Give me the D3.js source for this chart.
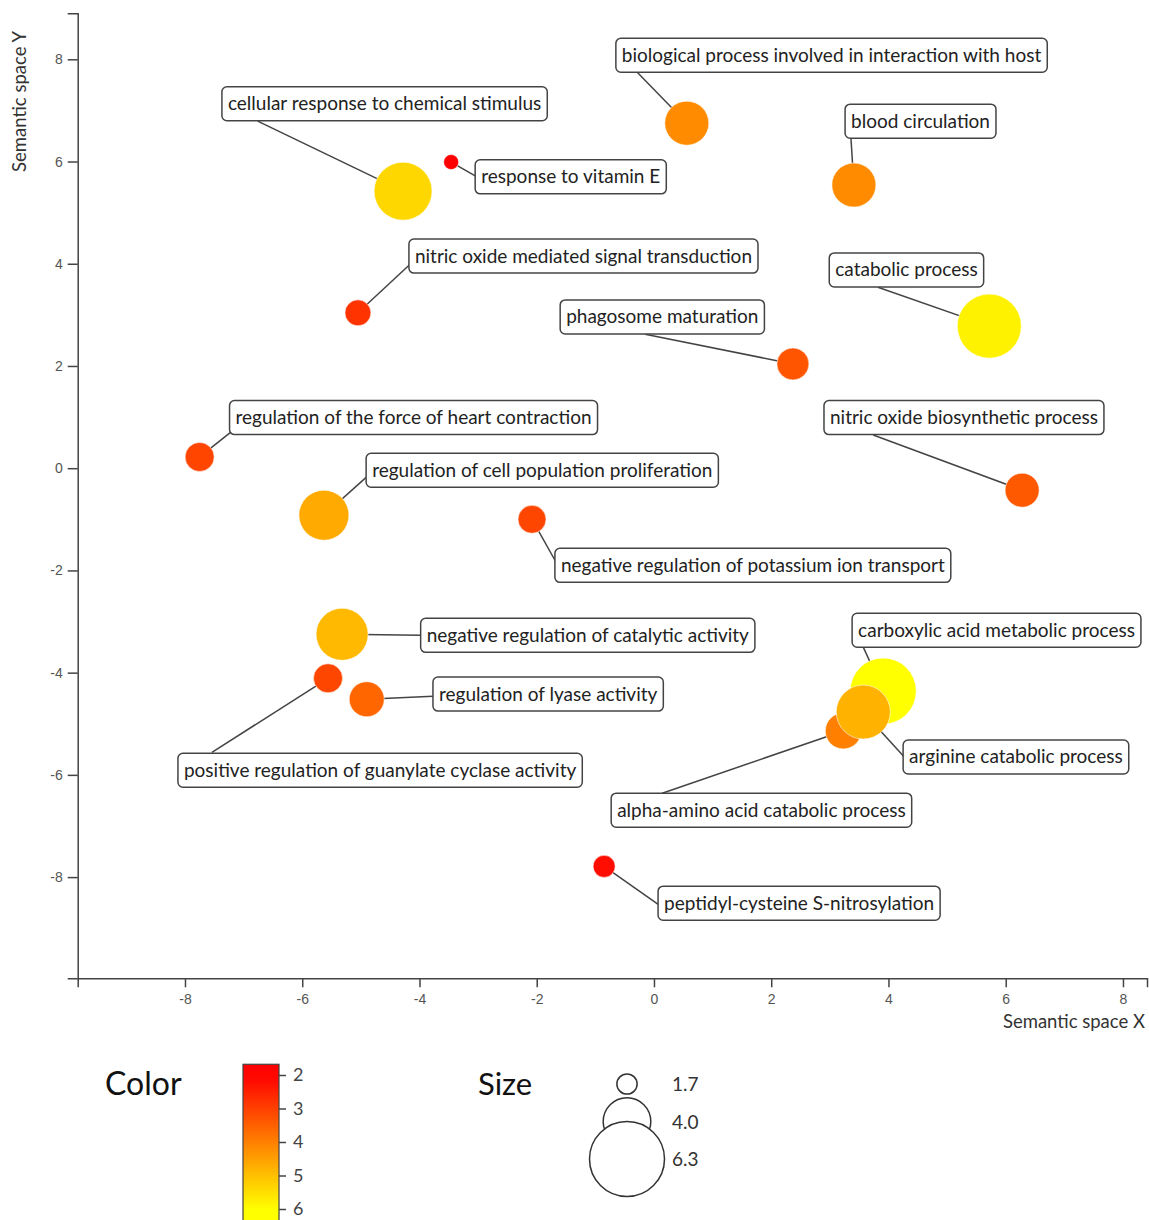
<!DOCTYPE html>
<html lang="en">
<head>
<meta charset="UTF-8">
<title>Semantic space of GO terms</title>
<script src="https://d3js.org/d3.v7.min.js"></script>
<style>
  body { margin: 0; background: #fff; }
  .tick text { font-family: "Liberation Sans", Arial, sans-serif; font-size: 14px; fill: #555; }
  .tick line, .domain { stroke: #444; stroke-width: 1.5px; }
  .lbl text { font-family: Lato, sans-serif; font-size: 19px; fill: #222; }
  .title { font-family: Lato, sans-serif; fill: #333; }
</style>
</head>
<body>
<svg id="chart" width="1149" height="1220"></svg>
<script>
// GO terms (REVIGO-style semantic space)
const terms = [
  "cellular response to chemical stimulus",
  "response to vitamin E",
  "biological process involved in interaction with host",
  "blood circulation",
  "nitric oxide mediated signal transduction",
  "catabolic process",
  "phagosome maturation",
  "regulation of the force of heart contraction",
  "nitric oxide biosynthetic process",
  "regulation of cell population proliferation",
  "negative regulation of potassium ion transport",
  "negative regulation of catalytic activity",
  "positive regulation of guanylate cyclase activity",
  "regulation of lyase activity",
  "carboxylic acid metabolic process",
  "alpha-amino acid catabolic process",
  "arginine catabolic process",
  "peptidyl-cysteine S-nitrosylation"
];
const semX = [-4.28, -3.46, 0.56, 3.41, -5.05, 5.72, 2.37, -7.75, 6.28, -5.63, -2.08, -5.32, -5.56, -4.90, 3.91, 3.23, 3.57, -0.85];
const semY = [5.42, 5.99, 6.75, 5.54, 3.04, 2.78, 2.04, 0.22, -0.43, -0.92, -1.00, -3.25, -4.11, -4.52, -4.36, -5.14, -4.77, -7.79];
const colorVal = [5.37, 2.0, 4.2, 4.2, 2.8, 5.8, 3.33, 3.08, 3.4, 4.67, 3.1, 4.9, 3.1, 3.6, 6.0, 4.0, 4.8, 2.2];
const sizeVal = [4.87, 1.26, 3.70, 3.70, 2.18, 5.38, 2.69, 2.44, 2.86, 4.20, 2.35, 4.37, 2.44, 2.94, 5.55, 3.03, 4.54, 1.85];

// label placement (semantic space units): box left / box middle, and where the leader line meets the box
const labelX = [-7.37, -3.05, -0.65, 3.26, -4.18, 2.99, -1.60, -7.24, 2.90, -4.91, -1.69, -3.98, -8.12, -3.77, 3.38, -0.73, 4.25, 0.07];
const labelY = [7.13, 5.70, 8.08, 6.79, 4.15, 3.88, 2.96, 0.99, 0.99, -0.04, -1.90, -3.27, -5.91, -4.42, -3.17, -6.69, -5.65, -8.51];
const anchorX = [-6.76, -3.05, -0.29, 3.36, -4.16, 3.82, -0.15, -7.18, 3.74, -4.91, -1.67, -3.98, -7.54, -3.77, 3.57, 0.14, 4.27, 0.09];
const anchorY = [6.79, 5.72, 7.75, 6.46, 3.99, 3.54, 2.62, 0.74, 0.65, -0.18, -1.84, -3.27, -5.56, -4.46, -3.50, -6.36, -5.65, -8.55];

const axisTicks = [-8, -6, -4, -2, 0, 2, 4, 6, 8];
const colorTicks = [2, 3, 4, 5, 6];
const sizeLegend = [1.7, 4.0, 6.3];

const svg = d3.select("#chart");

const x = d3.scaleLinear().domain([-9.83, 8.41]).range([77.7, 1147]);
const y = d3.scaleLinear().domain([-9.98, 8.9]).range([978.3, 13.3]);
const color = d3.scaleLinear().domain([2, 6]).range(["#ff0000", "#ffff00"]).clamp(true);
const radius = d3.scaleLinear().domain([0, 6.3]).range([0, 37.5]);

// axes
svg.append("g")
  .attr("transform", "translate(0,978.3)")
  .call(d3.axisBottom(x).tickValues(axisTicks).tickFormat(d => String(d)).tickSize(9).tickPadding(7));

svg.append("g")
  .attr("transform", "translate(77.7,0)")
  .call(d3.axisLeft(y).tickValues(axisTicks).tickFormat(d => String(d)).tickSize(10).tickPadding(5));

svg.append("text").attr("class", "title")
  .attr("transform", "translate(26,31) rotate(-90)")
  .attr("text-anchor", "end")
  .style("font-size", "18.5px")
  .text("Semantic space Y");

svg.append("text").attr("class", "title")
  .attr("x", 1145).attr("y", 1028)
  .attr("text-anchor", "end")
  .style("font-size", "18.5px")
  .text("Semantic space X");

const idx = d3.range(terms.length);

// leader lines
svg.append("g").selectAll("line")
  .data(idx)
  .join("line")
  .attr("x1", i => x(semX[i])).attr("y1", i => y(semY[i]))
  .attr("x2", i => x(anchorX[i])).attr("y2", i => y(anchorY[i]))
  .attr("stroke", "#444").attr("stroke-width", 1.5);

// bubbles
svg.append("g").selectAll("circle")
  .data(idx)
  .join("circle")
  .attr("cx", i => x(semX[i]))
  .attr("cy", i => y(semY[i]))
  .attr("r", i => radius(sizeVal[i]))
  .attr("fill", i => color(colorVal[i]))
  .attr("stroke", "#fff").attr("stroke-width", 0.8).attr("stroke-opacity", 0.7);

// label boxes
const lbl = svg.append("g").selectAll("g")
  .data(idx)
  .join("g")
  .attr("class", "lbl")
  .attr("transform", i => `translate(${x(labelX[i])},${y(labelY[i])})`);

lbl.append("rect");
lbl.append("text")
  .attr("x", 6).attr("y", 6.5)
  .text(i => terms[i]);

lbl.each(function() {
  const g = d3.select(this);
  const w = g.select("text").node().getComputedTextLength();
  g.select("rect")
    .attr("x", 0).attr("y", -17)
    .attr("width", w + 12).attr("height", 34)
    .attr("rx", 5)
    .attr("fill", "#fff").attr("stroke", "#444").attr("stroke-width", 1.5);
});

// colour legend
svg.append("text").attr("class", "title")
  .attr("x", 105).attr("y", 1095)
  .style("font-size", "32px").style("fill", "#111")
  .text("Color");

const cy = d3.scaleLinear().domain([2, 6]).range([1075, 1209]);
const grad = svg.append("defs").append("linearGradient")
  .attr("id", "cgrad").attr("x1", 0).attr("x2", 0).attr("y1", 0).attr("y2", 1);
const barLo = 1.68, barHi = 6.5;
d3.range(0, 1.0001, 0.1).forEach(t => {
  grad.append("stop").attr("offset", t).attr("stop-color", color(barLo + t * (barHi - barLo)));
});
svg.append("rect")
  .attr("x", 243).attr("y", cy(barLo))
  .attr("width", 36).attr("height", cy(barHi) - cy(barLo))
  .attr("fill", "url(#cgrad)")
  .attr("stroke", "#444").attr("stroke-width", 1.2);

const cleg = svg.append("g")
  .attr("transform", "translate(279,0)")
  .call(d3.axisRight(cy).tickValues(colorTicks).tickFormat(d => String(d)).tickSize(7).tickPadding(7).tickSizeOuter(0));
cleg.select(".domain").remove();
cleg.selectAll(".tick text").style("font-family", "Lato, sans-serif").style("font-size", "18px").style("fill", "#444");

// size legend
svg.append("text").attr("class", "title")
  .attr("x", 478).attr("y", 1095)
  .style("font-size", "31px").style("fill", "#111")
  .text("Size");

const sy = d3.scalePoint().domain(sizeLegend).range([1084, 1159]);
svg.append("g").selectAll("circle")
  .data(sizeLegend)
  .join("circle")
  .attr("cx", 627).attr("cy", d => sy(d))
  .attr("r", d => radius(d))
  .attr("fill", "#fff").attr("stroke", "#333").attr("stroke-width", 1.5);

svg.append("g").selectAll("text")
  .data(sizeLegend)
  .join("text")
  .attr("x", 672).attr("y", d => sy(d) + 7)
  .style("font-family", "Lato, sans-serif").style("font-size", "19px").style("fill", "#333")
  .text(d => d.toFixed(1));
</script>
</body>
</html>
